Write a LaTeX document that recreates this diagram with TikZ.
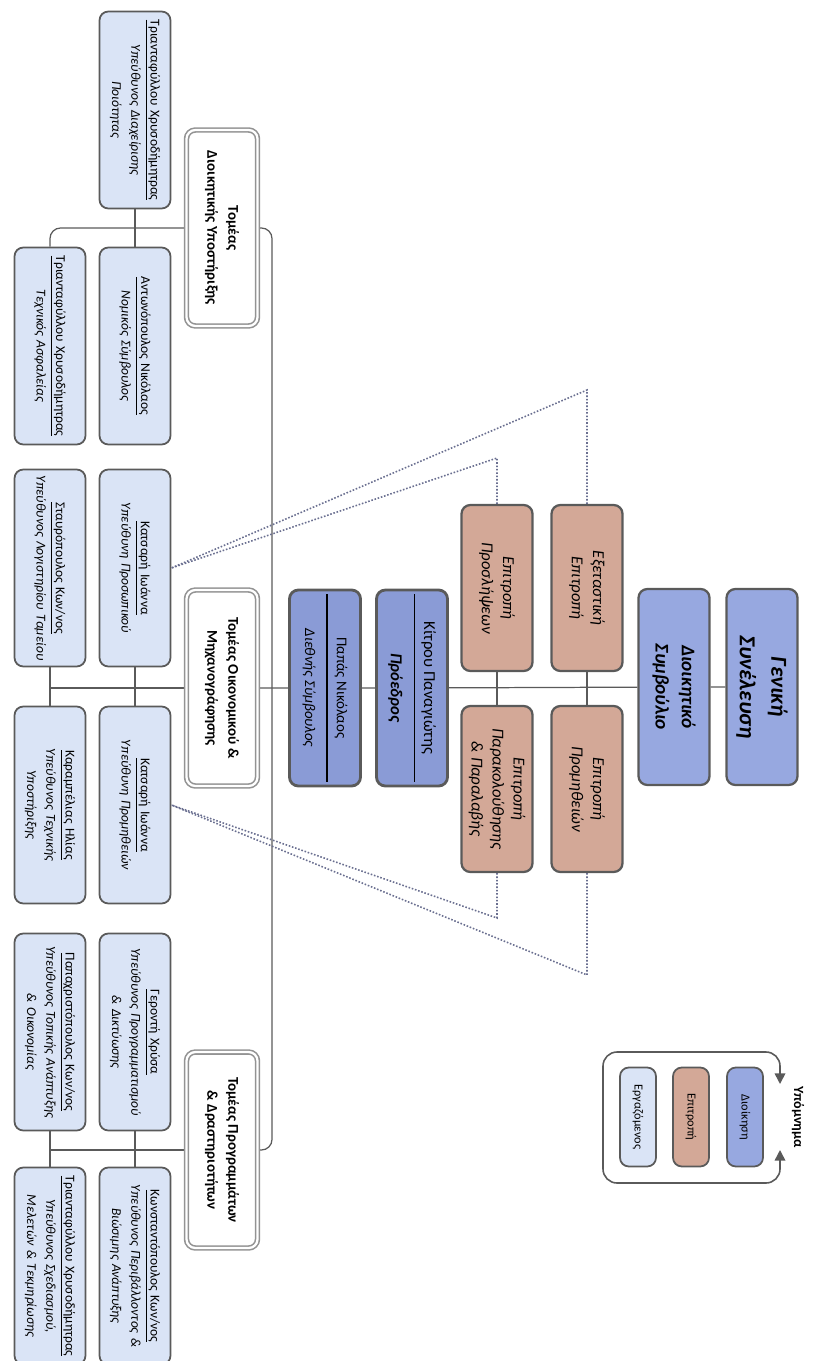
\documentclass[tikz,border=0pt]{standalone}
\usepackage{fontspec}
\setmainfont{Carlito}
\usetikzlibrary{arrows.meta, positioning, backgrounds}

\definecolor{boardblue}{HTML}{97A8E0}
\definecolor{chairblue}{HTML}{8A9BD6}
\definecolor{commtan}{HTML}{D3A897}
\definecolor{staffblue}{HTML}{DAE4F6}
\definecolor{frameline}{HTML}{5A5A5A}
\definecolor{dotline}{HTML}{6A6F90}

\newcommand{\staffname}[2]{\underline{#1}\\\textit{#2}}

\tikzset{
  orgbox/.style={draw=frameline, line width=1.3pt, rounded corners=5pt, rotate=-90,
    align=center, inner sep=2pt, minimum width=3.92cm, minimum height=1.42cm},
  board/.style={orgbox, fill=boardblue},
  chair/.style={orgbox, fill=chairblue, line width=1.6pt},
  committee/.style={orgbox, fill=commtan, minimum width=3.32cm,
    font=\fontsize{9.5}{12}\selectfont\itshape},
  staff/.style={orgbox, fill=staffblue, line width=1pt, text width=3.8cm,
    font=\fontsize{7.7}{11}\selectfont},
  sector/.style={orgbox, fill=white, draw=gray!85, line width=0.9pt, double=white,
    double distance=1.3pt, font=\fontsize{8.5}{12}\selectfont\bfseries},
  legendbox/.style={orgbox, line width=1pt, minimum width=1.98cm, minimum height=0.72cm,
    font=\fontsize{7}{9}\selectfont},
  orgline/.style={draw=frameline, line width=0.7pt},
  linkdot/.style={draw=dotline, line width=0.9pt, densely dotted}
}

\begin{document}
\begin{tikzpicture}[x=0.02cm, y=-0.02cm]
\useasboundingbox (0,0) rectangle (829,1361);

% board and assembly
\node[board, font=\fontsize{13}{18}\selectfont\bfseries\itshape] (gs) at (762,687) {Γενική\\Συνέλευση};
\node[board, font=\fontsize{11}{15}\selectfont\bfseries\itshape] (ds) at (674,687) {Διοικητικό\\Συμβούλιο};

% committees
\node[committee] (exet) at (587,588) {Εξεταστική\\Επιτροπή};
\node[committee] (prom) at (587,789) {Επιτροπή\\Προμηθειών};
\node[committee] (hire) at (497,588) {Επιτροπή\\Προσλήψεων};
\node[committee] (parak) at (497,789) {Επιτροπή\\Παρακολούθησης\\\& Παραλαβής};

% president and advisor
\node[chair, font=\fontsize{9.5}{13}\selectfont] (pres) at (412,688)
  {Κίτρου Παναγιώτης\\[-7pt]\rule{3.75cm}{0.8pt}\\\textbf{\textit{Πρόεδρος}}};
\node[chair, font=\fontsize{8.5}{12}\selectfont] (intl) at (325,688)
  {Παπάς Νικόλαος\\[-6pt]\rule{3.75cm}{0.8pt}\\\textit{Διεθνής Σύμβουλος}};

% sectors
\node[sector] (secA) at (222,228) {Τομέας\\Διοικητικής Υποστήριξης};
\node[sector] (secB) at (222,688) {Τομέας Οικονομικού \&\\Μηχανογράφησης};
\node[sector] (secC) at (222,1150) {Τομέας Προγραμμάτων\\\& Δραστηριοτήτων};

% staff, inner column
\node[staff] (qual) at (135,110) {\staffname{Τριανταφύλλου Χρυσοδήμητρας}{Υπεύθυνος Διαχείρισης\\Ποιότητας}};
\node[staff] (legal) at (135,346) {\staffname{Αντωνόπουλος Νικόλαος}{Νομικός Σύμβουλος}};
\node[staff] (pers) at (135,568) {\staffname{Κατσαρή Ιωάννα}{Υπεύθυνη Προσωπικού}};
\node[staff] (supp) at (135,805) {\staffname{Κατσαρή Ιωάννα}{Υπεύθυνη Προμηθειών}};
\node[staff] (plan) at (135,1032) {\staffname{Γεροντή Χρύσα}{Υπεύθυνος Προγραμματισμού\\\& Δικτύωσης}};
\node[staff] (envi) at (135,1266) {\staffname{Κωνσταντόπουλος Κων/νος}{Υπεύθυνος Περιβάλλοντος \&\\Βιώσιμης Ανάπτυξης}};

% staff, outer column
\node[staff] (safe) at (50,346) {\staffname{Τριανταφύλλου Χρυσοδήμητρας}{Τεχνικός Ασφαλείας}};
\node[staff] (acct) at (50,568) {\staffname{Σταυρόπουλος Κων/νος}{Υπεύθυνος Λογιστηρίου\ Ταμείου}};
\node[staff] (tech) at (50,805) {\staffname{Καραμπέλιας Ηλίας}{Υπεύθυνος Τεχνικής\\Υποστήριξης}};
\node[staff] (locl) at (50,1032) {\staffname{Παπαχριστόπουλος Κων/νος}{Υπεύθυνος Τοπικής Ανάπτυξης\\\& Οικονομίας}};
\node[staff] (stud) at (50,1266) {\staffname{Τριανταφύλλου Χρυσοδήμητρας}{Υπεύθυνος Σχεδιασμού,\\Μελετών \& Τεκμηρίωσης}};

% legend
\node[legendbox, fill=boardblue] (legB) at (745,1117) {Διοίκηση};
\node[legendbox, fill=commtan] (legC) at (691,1117) {Επιτροπή};
\node[legendbox, fill=staffblue] (legS) at (638,1117) {Εργαζόμενος};
\node[rotate=-90, font=\fontsize{8}{10}\selectfont\bfseries] (legT) at (798,1117) {Υπόμνημα};
\coordinate (legtop) at (780,1084);
\coordinate (legbot) at (780,1150);

\begin{pgfonlayer}{background}
  % main spine
  \draw[orgline] (gs) -- (ds) -- (pres) -- (intl) -- (secB);
  \draw[orgline] (exet) -- (prom);
  \draw[orgline] (hire) -- (parak);
  % sector bus
  \coordinate (busA) at (272,228);
  \coordinate (busC) at (272,1150);
  \draw[orgline, rounded corners=6pt] (secA) -- (busA) -- (busC) -- (secC);
  % sector A
  \coordinate (endA) at (50,228);
  \draw[orgline, rounded corners=6pt] (secA) -- (endA) -- (safe);
  \draw[orgline] (qual) -- (legal);
  % sector B
  \coordinate (endB) at (50,688);
  \draw[orgline] (secB) -- (endB);
  \draw[orgline] (pers) -- (supp);
  \draw[orgline] (acct) -- (tech);
  % sector C
  \coordinate (endC) at (50,1150);
  \draw[orgline] (secC) -- (endC);
  \draw[orgline] (plan) -- (envi);
  \draw[orgline] (locl) -- (stud);
\end{pgfonlayer}

% dotted links
\coordinate (dA) at (587,390);
\coordinate (dB) at (497,458);
\coordinate (dC) at (587,975);
\coordinate (dD) at (497,918);
\draw[linkdot] (exet) -- (dA) -- (pers.north);
\draw[linkdot] (hire) -- (dB) -- (pers.north);
\draw[linkdot] (prom) -- (dC) -- (supp.north);
\draw[linkdot] (parak) -- (dD) -- (supp.north);

% legend frame
\draw[frameline, line width=0.9pt, rounded corners=8pt, {Triangle[length=6pt,width=6pt]}-{Triangle[length=6pt,width=6pt]}]
  (legtop) -- (780,1052) -- (603,1052) -- (603,1183) -- (780,1183) -- (legbot);
\end{tikzpicture}
\end{document}
